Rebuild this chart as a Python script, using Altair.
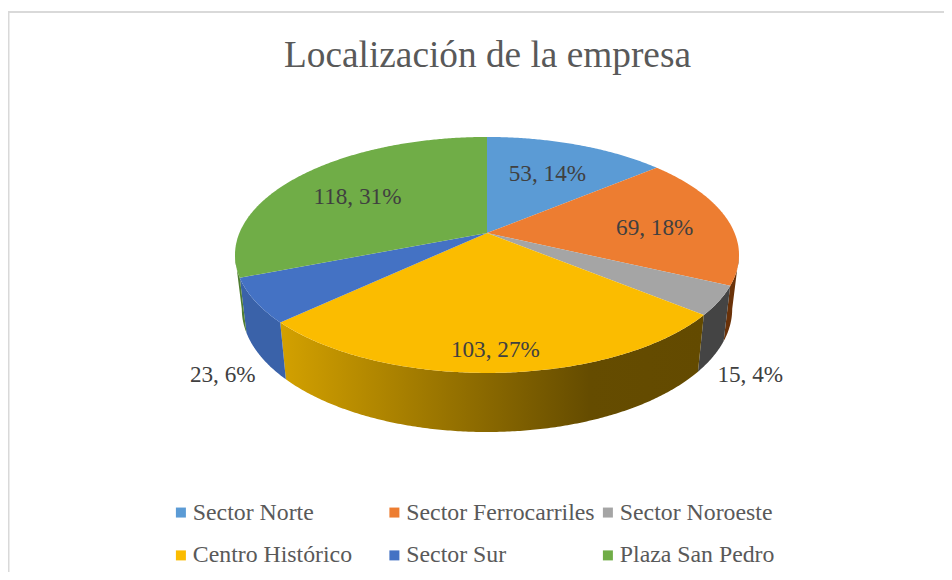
import math
import altair as alt

names = ["Sector Norte", "Sector Ferrocarriles", "Sector Noroeste",
         "Centro Histórico", "Sector Sur", "Plaza San Pedro"]
values = [53, 69, 15, 103, 23, 118]
percents = [14, 18, 4, 27, 6, 31]
top_colors = ["#5b9bd5", "#ed7d31", "#a5a5a5", "#fbbc00", "#4472c4", "#70ad47"]
wall_colors = ["#3b6a96", "#6a3209", "#444444", "#7d5f00", "#3a62a9", "#4f7d32"]
label_radius = [0.65, 0.69, 1.0, 0.86, 1.0, 0.65]
label_shift = [(-1, 1), (1, 5), (31, 74), (0, 0), (-32, 74), (-5, 3)]

W, H = 936, 564
CX, CY = 479.0, 225.0
A, B, K = 247.6, 113.9, 0.186
BOT_Y, BOT_R, SCALE = 301.0, 123.0, 0.973
EDGE = math.degrees(math.acos(-K))


def top(theta, r=1.0):
    t = math.radians(theta)
    u, v = r * math.sin(t), r * math.cos(t)
    w = 1 + K * v
    return CX + A * u / w, CY - B * v / w


def bottom(theta):
    x, _ = top(theta)
    dx = (x - CX) * SCALE
    rim = A / math.sqrt(1 - K * K) * SCALE
    return CX + dx, BOT_Y + BOT_R * math.sqrt(max(0.0, 1 - (dx / rim) ** 2))


def arc(a, b, fn):
    n = max(2, int(abs(b - a)) * 2)
    return [fn(a + (b - a) * i / n) for i in range(n + 1)]


def feature(name, ring):
    ring = [list(p) for p in ring] + [list(ring[0])]
    return {"type": "Feature", "properties": {"name": name},
            "geometry": {"type": "Polygon", "coordinates": [ring]}}


total = sum(values)
edges = [0.0]
for val in values:
    edges.append(edges[-1] + val / total * 360)

tops, wall_parts, labels = [], [], []
for i, name in enumerate(names):
    a, b = edges[i], edges[i + 1]
    tops.append(feature(name, [(CX, CY)] + arc(a, b, top)))
    lo, hi = max(a, EDGE), min(b, 360 - EDGE)
    if lo < hi:
        ring = arc(lo, hi, top) + arc(hi, lo, bottom)
        wall_parts.append((i, feature(name, ring)))
    mid = (a + b) / 2
    lx, ly = top(mid, label_radius[i])
    labels.append({"text": f"{values[i]}, {percents[i]}%",
                   "x": lx + label_shift[i][0], "y": ly + label_shift[i][1]})


def geo(features):
    return alt.InlineData(values={"type": "FeatureCollection", "features": features},
                          format=alt.DataFormat(type="json", property="features"))


projection = dict(type="identity", scale=1, translate=[0, 0])
layers = [
    alt.Chart(alt.Data(values=[{"a": 1}])).mark_rule(color="#d9d9d9", strokeWidth=2).encode(
        x=alt.value(0), x2=alt.value(W), y=alt.value(4)),
    alt.Chart(alt.Data(values=[{"a": 1}])).mark_rule(color="#d9d9d9", strokeWidth=2).encode(
        x=alt.value(0.5), y=alt.value(3), y2=alt.value(H)),
]

gradient = alt.LinearGradient(
    gradient="linear", x1=0, x2=1, y1=0, y2=0,
    stops=[alt.GradientStop(color="#d3a100", offset=0),
           alt.GradientStop(color="#654c00", offset=0.73),
           alt.GradientStop(color="#634a00", offset=1)])

for i, feat in wall_parts:
    fill = gradient if names[i] == "Centro Histórico" else wall_colors[i]
    layers.append(alt.Chart(geo([feat])).mark_geoshape(fill=fill, strokeWidth=0)
                  .project(**projection))

layers.append(
    alt.Chart(geo(tops)).mark_geoshape(strokeWidth=0).encode(
        color=alt.Color("properties.name:N",
                        scale=alt.Scale(domain=names, range=top_colors),
                        sort=names,
                        legend=alt.Legend(
                            title=None, orient="none", legendX=161, legendY=492.5,
                            direction="horizontal",
                            columns=3, gridAlign="all", columnPadding=0.5, rowPadding=18,
                            symbolType="square", symbolSize=100, symbolStrokeWidth=0,
                            labelFont="Liberation Serif", labelFontSize=23.8,
                            labelColor="#595959", labelOffset=0, labelLimit=260,
                            padding=0))
    ).project(**projection))

layers.append(
    alt.Chart(alt.Data(values=labels)).mark_text(
        font="Liberation Serif", fontSize=23.2, color="#404040",
        align="center", baseline="middle").encode(
        x=alt.X("x:Q", scale=alt.Scale(domain=[0, W], range=[0, W]), axis=None),
        y=alt.Y("y:Q", scale=alt.Scale(domain=[0, H], range=[0, H]), axis=None),
        text="text:N"))

chart = alt.layer(*layers).properties(
    width=W, height=H, padding=0, autosize="none",
    title=alt.TitleParams("Localización de la empresa", font="Liberation Serif",
                          fontSize=37.3, fontWeight="normal", color="#595959",
                          anchor="middle", dx=11.5, dy=71.5)
).configure_view(stroke=None)

chart.save("out.html", embed_options={"renderer": "svg", "actions": False})
